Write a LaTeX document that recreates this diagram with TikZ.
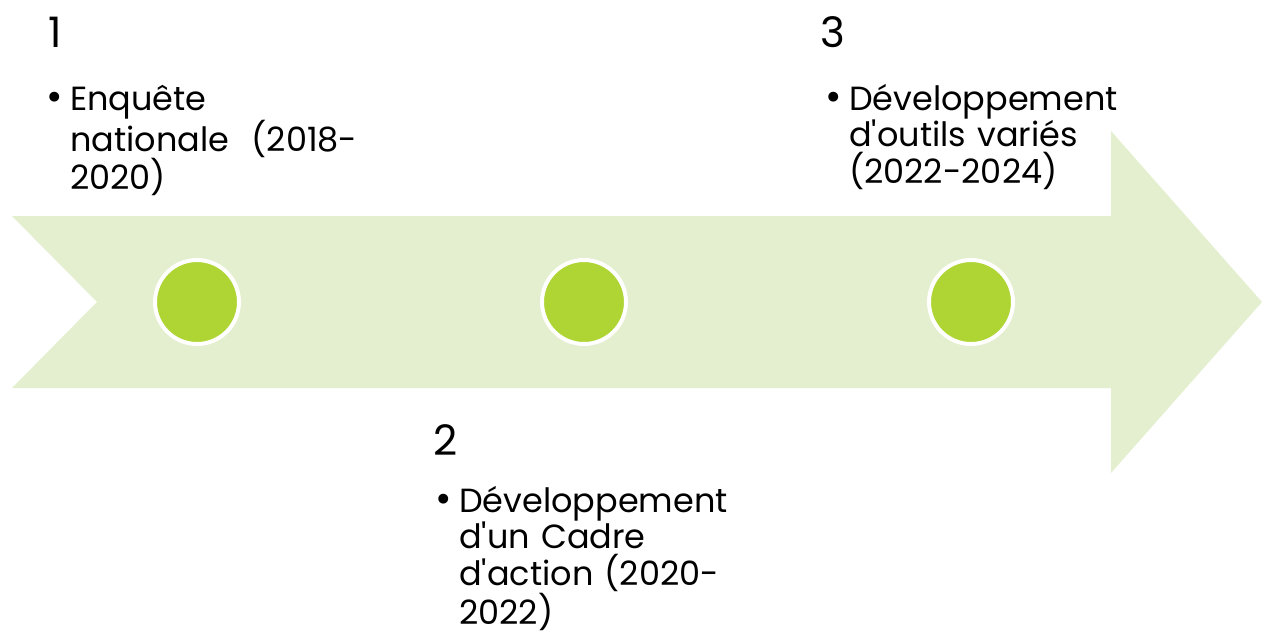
\documentclass[tikz,border=0pt]{standalone}
\usepackage{fontspec}
\setmainfont{Poppins}
\definecolor{band}{HTML}{E3EFCE}
\definecolor{lime}{HTML}{AED534}
\begin{document}
\begin{tikzpicture}[x=1pt,y=-1pt,
  dot/.style={circle,fill=lime,draw=white,line width=4pt,minimum size=84pt,inner sep=0pt},
  num/.style={anchor=base west,inner sep=0pt,font=\fontsize{42}{48}\selectfont},
  item/.style={anchor=base west,inner sep=0pt,text width=320pt,align=left,font=\fontsize{33.5}{36.8}\selectfont},
  bul/.style={anchor=base west,inner sep=0pt,font=\fontsize{40}{44}\selectfont}]
\useasboundingbox (0,0) rectangle (1262,635);
\fill[band] (12,216) -- (1111,216) -- (1111,131) -- (1262,302) -- (1111,473) -- (1111,388) -- (12,388) -- (97,302) -- cycle;
\node[dot] (c1) at (197,302) {};
\node[dot] (c2) at (584,302) {};
\node[dot] (c3) at (971,302) {};
\node[num] (n1) at (48,47) {1};
\node[num] (n2) at (433,455) {2};
\node[num] (n3) at (820,47) {3};
\node[bul] (b1) at (46,110) {•};
\node[item] (t1) at (70,110) {Enquête\\nationale\ \ (2018-\\2020)};
\node[bul] (b2) at (435,512) {•};
\node[item] (t2) at (459,512) {Développement\\d\textquotesingle un Cadre\\d\textquotesingle action (2020-\\2022)};
\node[bul] (b3) at (825,110) {•};
\node[item] (t3) at (849,110) {Développement\\d\textquotesingle outils variés\\(2022-2024)};
\end{tikzpicture}
\end{document}
